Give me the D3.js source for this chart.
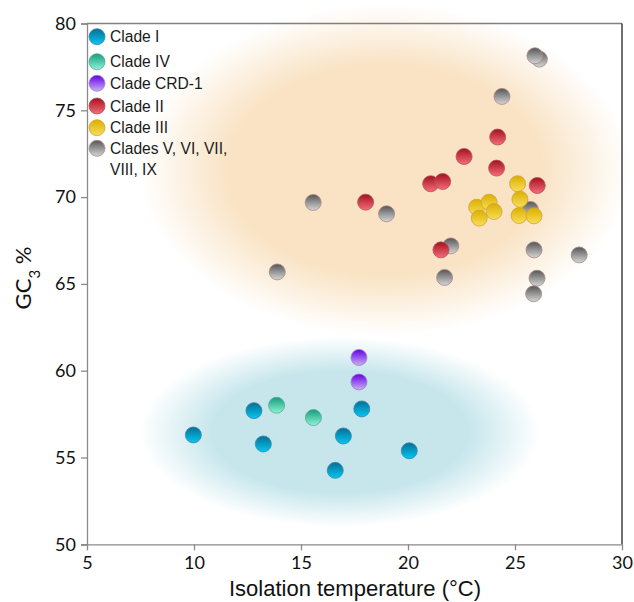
<!DOCTYPE html>
<html><head><meta charset="utf-8">
<script src="https://cdn.jsdelivr.net/npm/d3@7"></script>
<style>body{margin:0;background:#fff} svg{display:block}</style>
</head><body>
<svg id="c" width="634" height="602"></svg>
<script>
// ---- data (isolation temperature °C, GC3 %) ----
const cladeNames = ["Clade I", "Clade IV", "Clade CRD-1", "Clade II", "Clade III", "Clades V, VI, VII, VIII, IX"];
const cladeI   = [[9.97,56.3],[12.80,57.70],[13.24,55.78],[17.84,57.80],[16.98,56.24],[16.60,54.26],[20.06,55.39]];
const cladeIV  = [[13.86,58.01],[15.58,57.30]];
const cladeCRD = [[17.71,60.76],[17.71,59.35]];
const cladeII  = [[24.19,73.46],[22.62,72.34],[24.14,71.67],[21.06,70.77],[21.62,70.90],[26.04,70.67],[18.02,69.71],[21.54,66.96]];
const cladeIII = [[25.12,70.77],[25.23,69.88],[25.19,68.94],[25.89,68.92],[23.21,69.42],[23.79,69.71],[24.02,69.17],[23.33,68.79]];
const cladeV   = [[26.14,77.95],[25.93,78.14],[24.39,75.80],[15.57,69.69],[19.0,69.04],[22.0,67.19],[21.71,65.37],[25.72,69.29],[25.89,66.96],[28.0,66.67],[26.03,65.33],[25.87,64.43],[13.89,65.69]];
const xTicks = [5,10,15,20,25,30];
const yTicks = [50,55,60,65,70,75,80];
// shaded regions: [cx, cy, rx, ry] in data units
const warmRegion = [18.93, 71.57, 11.45, 9.5];
const coldRegion = [16.82, 56.47, 9.35, 5.48];

const svg = d3.select("#c");
const x = d3.scaleLinear().domain([5,30]).range([87,622]);
const y = d3.scaleLinear().domain([50,80]).range([544.3,23.5]);

const styles = [
  {top:"#0a6d95", bot:"#00c8f2", stroke:"#3a86a8"},
  {top:"#149e7c", bot:"#8ef3d6", stroke:"#5aa890"},
  {top:"#6400e6", bot:"#cbb0f4", stroke:"#9a80c8"},
  {top:"#a3121c", bot:"#f66c7a", stroke:"#b05060"},
  {top:"#dcae00", bot:"#f9de58", stroke:"#c8a63a"},
  {top:"#555555", bot:"#d6d6d6", stroke:"#a88888"}
];
const defs = svg.append("defs");
styles.forEach((s,i)=>{
  const g = defs.append("linearGradient").attr("id","m"+i).attr("x1",0).attr("y1",0).attr("x2",0).attr("y2",1);
  g.append("stop").attr("offset","0%").attr("stop-color",s.top);
  g.append("stop").attr("offset","100%").attr("stop-color",s.bot);
});
function region(id,col){
  const g = defs.append("radialGradient").attr("id",id);
  g.append("stop").attr("offset","0%").attr("stop-color",col).attr("stop-opacity",1);
  g.append("stop").attr("offset","64%").attr("stop-color",col).attr("stop-opacity",1);
  g.append("stop").attr("offset","100%").attr("stop-color",col).attr("stop-opacity",0);
}
region("warm","#f9e3c4");
region("cold","#c6e6ec");

[[warmRegion,"warm"],[coldRegion,"cold"]].forEach(([r,id])=>{
  svg.append("ellipse")
    .attr("cx",x(r[0])).attr("cy",y(r[1]))
    .attr("rx",x(r[0]+r[2])-x(r[0])).attr("ry",y(r[1])-y(r[1]+r[3]))
    .attr("fill",`url(#${id})`);
});

// frame
svg.append("line").attr("x1",x(5)).attr("x2",x(30)).attr("y1",y(80)).attr("y2",y(80)).attr("stroke","#808080").attr("stroke-width",1.3);
svg.append("line").attr("x1",x(30)).attr("x2",x(30)).attr("y1",y(80)).attr("y2",y(50)).attr("stroke","#222").attr("stroke-width",1.3);

const xAxis = svg.append("g").attr("transform",`translate(0,${y(50)})`)
  .call(d3.axisBottom(x).tickValues(xTicks).tickSize(6).tickPadding(6));
const yAxis = svg.append("g").attr("transform",`translate(${x(5)},0)`)
  .call(d3.axisLeft(y).tickValues(yTicks).tickSize(6).tickPadding(5));
[xAxis,yAxis].forEach(a=>{
  a.selectAll("path,line").attr("stroke","#8a8a8a").attr("stroke-width",1.3);
  a.selectAll("text").attr("fill","#111").style("font-family","Lato, 'Open Sans', sans-serif").style("font-size","18px");
});
xAxis.select(".domain").attr("d",`M${x(5)-6},0.5H${x(30)}`);

svg.append("text").attr("x",(x(5)+x(30))/2+0.5).attr("y",596).attr("text-anchor","middle")
  .style("font-family","'Liberation Sans', Arial, sans-serif").style("font-size","22px").attr("fill","#111")
  .text("Isolation temperature (°C)");
const yt = svg.append("text").attr("transform","translate(31,278) rotate(-90)").attr("text-anchor","middle")
  .style("font-family","Lato, 'Open Sans', sans-serif").style("font-size","22px").attr("fill","#111");
yt.append("tspan").text("GC");
yt.append("tspan").attr("baseline-shift","sub").style("font-size","15px").text("3");
yt.append("tspan").text(" %");

// points (grey first so coloured clades sit on top)
const series = [[5,cladeV],[0,cladeI],[1,cladeIV],[2,cladeCRD],[3,cladeII],[4,cladeIII]];
series.forEach(([i,pts])=>{
  svg.append("g").selectAll("circle").data(pts).join("circle")
    .attr("cx",d=>x(d[0])).attr("cy",d=>y(d[1])).attr("r",8)
    .attr("fill",`url(#m${i})`).attr("stroke",styles[i].stroke).attr("stroke-width",0.8);
});

// legend
const legY = [36.7,61.7,83.3,106,127.7,148.3];
const leg = svg.append("g");
cladeNames.forEach((n,i)=>{
  leg.append("circle").attr("cx",97).attr("cy",legY[i]).attr("r",8)
    .attr("fill",`url(#m${i})`).attr("stroke",styles[i].stroke).attr("stroke-width",0.8);
  const t = leg.append("text").attr("x",110).attr("y",legY[i]+5.5)
    .style("font-family","'Liberation Sans', Arial, sans-serif").style("font-size","15.6px").attr("fill","#1a1a1a");
  if (i===5){
    t.append("tspan").text("Clades V, VI, VII,");
    t.append("tspan").attr("x",110).attr("dy",21).text("VIII, IX");
  } else t.text(n);
});
</script>
</body></html>
